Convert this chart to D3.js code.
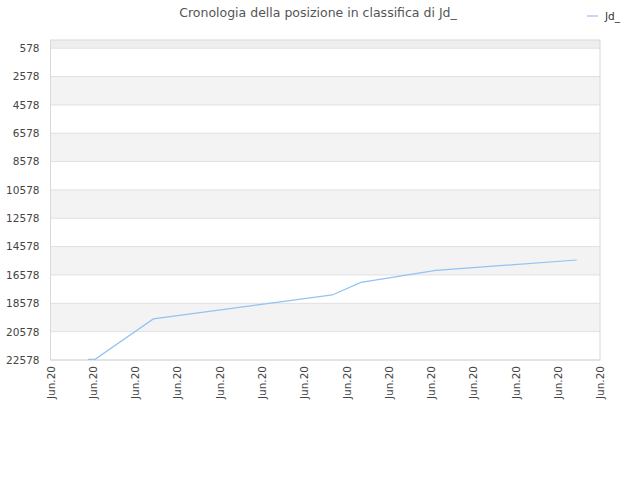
<!DOCTYPE html>
<html><head><meta charset="utf-8">
<script src="https://cdn.jsdelivr.net/npm/d3@7"></script>
<style>body{margin:0;background:#fff}text{font-family:"DejaVu Sans",sans-serif}</style>
</head><body><svg id="c" width="640" height="480"></svg>
<script>
const title = "Cronologia della posizione in classifica di Jd_";
const seriesName = "Jd_";
const xLabels = ["Jun.20","Jun.20","Jun.20","Jun.20","Jun.20","Jun.20","Jun.20","Jun.20","Jun.20","Jun.20","Jun.20","Jun.20","Jun.20","Jun.20"];
const yTicks = [578,2578,4578,6578,8578,10578,12578,14578,16578,18578,20578,22578];
const pointX = [0.886,1.054,2.432,6.668,7.344,9.117,12.45];
const pointY = [22530,22530,19680,17987,17099,16253,15523];

const svg = d3.select("#c");
const L=50.5,R=600,T=40,B=360;
const x = d3.scaleLinear().domain([0,xLabels.length-1]).range([L,R]);
const y = d3.scaleLinear().domain([0,22578]).range([T,B]);

svg.append("rect").attr("x",L).attr("y",T).attr("width",R-L).attr("height",y(578)-T).attr("fill","#eeeeee");
for(let i=0;i<yTicks.length-1;i++){
  svg.append("rect").attr("x",L).attr("y",y(yTicks[i])).attr("width",R-L)
    .attr("height",y(yTicks[i+1])-y(yTicks[i])).attr("fill",i%2? "#f3f3f3":"#ffffff");
}
yTicks.forEach(v=>svg.append("line").attr("x1",L).attr("x2",R).attr("y1",y(v)).attr("y2",y(v)).attr("stroke","#e0e0e0"));
svg.append("rect").attr("x",L).attr("y",T).attr("width",R-L).attr("height",B-T).attr("fill","none").attr("stroke","#d8d8d8");

const ya = svg.append("g").attr("transform",`translate(${L},0)`).call(d3.axisLeft(y).tickValues(yTicks).tickSize(0).tickPadding(11).tickFormat(d=>d));
ya.select(".domain").remove();
ya.selectAll("text").attr("font-size",10.5).attr("fill","#444");

const xa = svg.append("g").attr("transform",`translate(0,${B})`).call(d3.axisBottom(x).tickValues(d3.range(xLabels.length)).tickSize(0).tickFormat(i=>xLabels[i]));
xa.select(".domain").remove();
xa.selectAll("text").attr("font-size",10.5).attr("fill","#444")
  .attr("transform","rotate(-90)").attr("text-anchor","end").attr("dx","-6").attr("dy","0.35em").attr("x",0).attr("y",0);

svg.append("path").datum(pointX.map((d,i)=>[d,pointY[i]]))
  .attr("d",d3.line().x(d=>x(d[0])).y(d=>y(d[1])))
  .attr("fill","none").attr("stroke","#90c4f4").attr("stroke-width",1.2);

svg.append("text").attr("x",318).attr("y",17).attr("text-anchor","middle").attr("font-size",12.5).attr("fill","#555").text(title);
svg.append("line").attr("x1",587).attr("x2",598).attr("y1",16).attr("y2",16).attr("stroke","#90c4f4").attr("stroke-width",1.2);
svg.append("text").attr("x",605).attr("y",20).attr("font-size",10.5).attr("fill","#333").text(seriesName);
</script></body></html>
